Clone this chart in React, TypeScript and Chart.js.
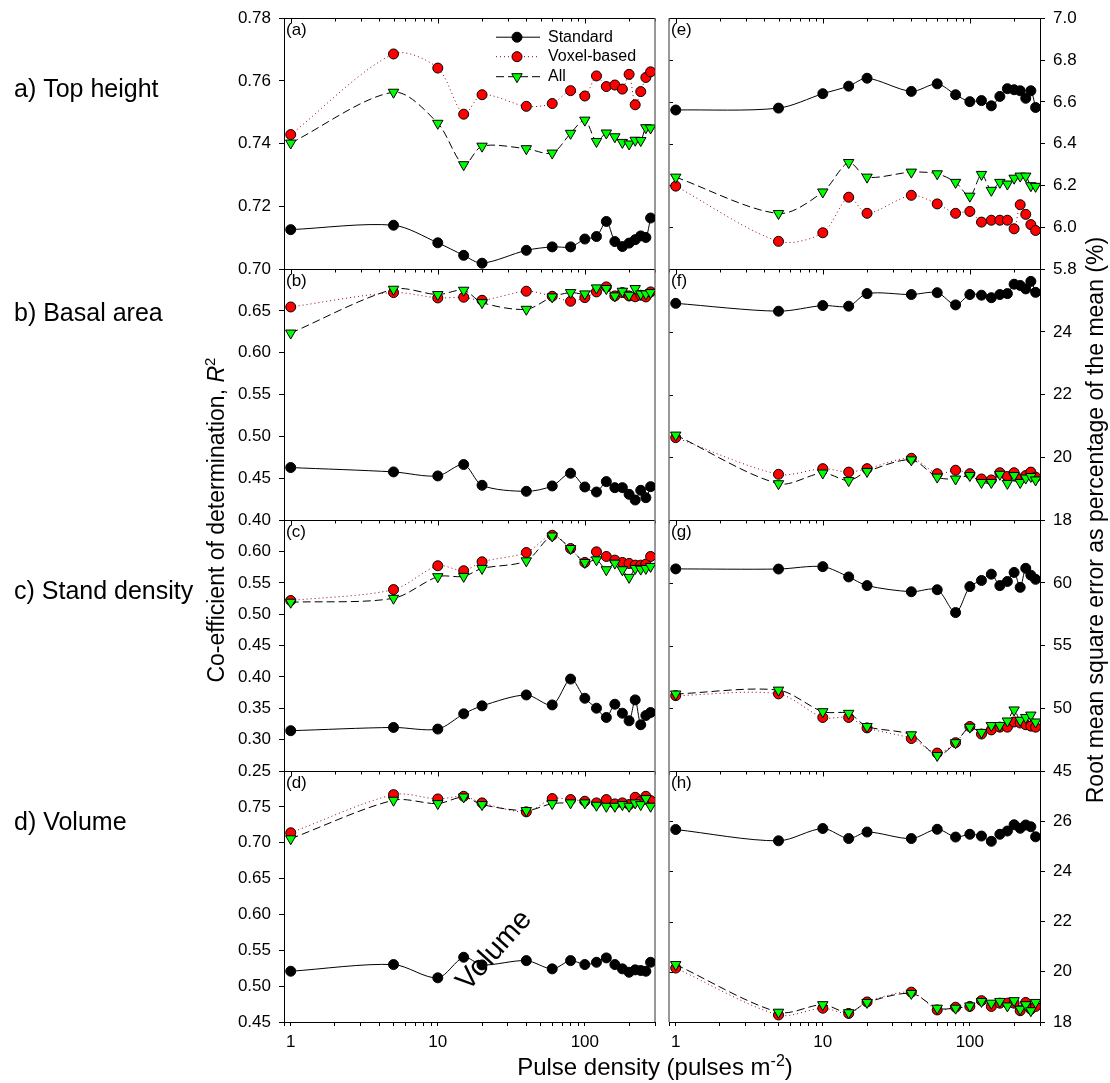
import React, { useEffect, useRef } from "react";
import { Chart, registerables } from "chart.js";

Chart.register(...registerables);

const FONT = "'Liberation Sans', Arial, Helvetica, sans-serif";

// ---------------- data ----------------
const pulseDensity = [1, 5, 10, 15, 20, 40, 60, 80, 100, 120, 140, 160, 180, 200, 220, 240, 260, 280];
const seriesNames = ["Standard", "Voxel-based", "All"];

const xMajorTicks = [1, 10, 100];
const xTickValues = [0.9, 1, 2, 3, 4, 5, 6, 7, 8, 9, 10, 20, 30, 40, 50, 60, 70, 80, 90, 100, 200, 300];

// R2 (left column)
const topHeightStandardR2 = [0.7126, 0.714, 0.7084, 0.7044, 0.7019, 0.706, 0.7071, 0.7071, 0.7096, 0.7104, 0.7152, 0.7088, 0.7072, 0.7083, 0.7094, 0.7106, 0.7101, 0.7163];
const topHeightVoxelR2 = [0.7429, 0.7686, 0.7641, 0.7494, 0.7556, 0.7519, 0.7528, 0.7569, 0.7552, 0.7616, 0.7582, 0.7587, 0.7574, 0.7621, 0.7524, 0.7566, 0.7611, 0.7629];
const topHeightAllR2 = [0.7402, 0.7564, 0.7465, 0.7333, 0.7392, 0.7384, 0.737, 0.7433, 0.7475, 0.7407, 0.7434, 0.7422, 0.7404, 0.7399, 0.7411, 0.741, 0.7451, 0.745];

const basalAreaStandardR2 = [0.4628, 0.4576, 0.4528, 0.4664, 0.4416, 0.4344, 0.4408, 0.456, 0.4396, 0.4336, 0.446, 0.4388, 0.4388, 0.4308, 0.424, 0.4356, 0.4268, 0.44];
const basalAreaVoxelR2 = [0.6548, 0.672, 0.6656, 0.6664, 0.6628, 0.6736, 0.6676, 0.6616, 0.666, 0.6728, 0.6788, 0.668, 0.672, 0.668, 0.667, 0.6688, 0.6668, 0.6728];
const basalAreaAllR2 = [0.6236, 0.676, 0.6696, 0.6748, 0.66, 0.652, 0.6668, 0.672, 0.6704, 0.6776, 0.6768, 0.668, 0.6736, 0.6688, 0.6768, 0.6704, 0.6704, 0.672];

const standDensityStandardR2 = [0.3143, 0.3195, 0.3169, 0.3412, 0.3539, 0.3713, 0.3554, 0.3966, 0.366, 0.3502, 0.3354, 0.3565, 0.3422, 0.3301, 0.3634, 0.3238, 0.3385, 0.3433];
const standDensityVoxelR2 = [0.5218, 0.5392, 0.5772, 0.5693, 0.5835, 0.5983, 0.6258, 0.6047, 0.5825, 0.5994, 0.592, 0.5862, 0.5825, 0.5809, 0.5782, 0.5782, 0.5798, 0.592];
const standDensityAllR2 = [0.5191, 0.5254, 0.5598, 0.5603, 0.573, 0.5851, 0.6247, 0.6047, 0.5825, 0.5867, 0.5709, 0.5814, 0.5709, 0.5587, 0.573, 0.5719, 0.573, 0.5762];

const volumeStandardR2 = [0.5208, 0.5301, 0.5116, 0.5403, 0.5296, 0.5356, 0.5241, 0.5356, 0.5301, 0.5333, 0.5394, 0.5301, 0.5241, 0.5194, 0.5227, 0.5218, 0.5208, 0.5333];
const volumeVoxelR2 = [0.7139, 0.7671, 0.7611, 0.7648, 0.7556, 0.7431, 0.7616, 0.7602, 0.7579, 0.7556, 0.7602, 0.7542, 0.7556, 0.7532, 0.7634, 0.7579, 0.7648, 0.7588];
const volumeAllR2 = [0.7056, 0.7593, 0.7546, 0.7639, 0.7532, 0.7449, 0.7546, 0.7556, 0.7556, 0.7523, 0.7509, 0.7509, 0.7532, 0.7509, 0.7556, 0.7532, 0.7616, 0.7509];

// RMSE % (right column)
const topHeightStandardRmse = [6.561, 6.57, 6.639, 6.675, 6.713, 6.65, 6.686, 6.634, 6.601, 6.606, 6.581, 6.626, 6.663, 6.658, 6.653, 6.617, 6.653, 6.573];
const topHeightVoxelRmse = [6.197, 5.933, 5.974, 6.144, 6.067, 6.153, 6.112, 6.067, 6.076, 6.025, 6.034, 6.034, 6.034, 5.993, 6.108, 6.062, 6.013, 5.985];
const topHeightAllRmse = [6.24, 6.066, 6.169, 6.31, 6.24, 6.264, 6.256, 6.215, 6.149, 6.253, 6.177, 6.215, 6.207, 6.235, 6.245, 6.245, 6.199, 6.196];

const basalAreaStandardRmse = [24.91, 24.66, 24.84, 24.82, 25.22, 25.19, 25.25, 24.86, 25.19, 25.17, 25.09, 25.19, 25.22, 25.52, 25.48, 25.37, 25.61, 25.26];
const basalAreaVoxelRmse = [20.63, 19.46, 19.64, 19.53, 19.64, 19.97, 19.48, 19.59, 19.48, 19.31, 19.28, 19.51, 19.39, 19.51, 19.31, 19.42, 19.53, 19.37];
const basalAreaAllRmse = [20.71, 19.16, 19.5, 19.26, 19.55, 19.92, 19.37, 19.31, 19.42, 19.2, 19.2, 19.46, 19.17, 19.42, 19.2, 19.34, 19.39, 19.28];

const standDensityStandardRmse = [61.11, 61.1, 61.29, 60.47, 59.78, 59.29, 59.45, 57.63, 59.7, 60.19, 60.69, 59.78, 60.11, 60.83, 59.64, 61.16, 60.61, 60.28];
const standDensityVoxelRmse = [51.01, 51.15, 49.27, 49.27, 48.44, 47.59, 46.43, 47.26, 48.55, 47.95, 48.28, 48.5, 48.5, 48.91, 48.83, 48.69, 48.58, 48.5];
const standDensityAllRmse = [51.14, 51.45, 49.73, 49.6, 48.55, 47.89, 46.24, 47.26, 48.5, 48.08, 48.63, 48.63, 48.99, 49.87, 49.05, 49.27, 49.46, 48.91];

const volumeStandardRmse = [25.67, 25.22, 25.71, 25.31, 25.57, 25.31, 25.68, 25.37, 25.48, 25.41, 25.2, 25.48, 25.61, 25.86, 25.72, 25.85, 25.78, 25.38];
const volumeVoxelRmse = [20.15, 18.28, 18.55, 18.34, 18.8, 19.19, 18.48, 18.59, 18.62, 18.85, 18.62, 18.75, 18.75, 18.75, 18.45, 18.78, 18.51, 18.62];
const volumeAllRmse = [20.29, 18.39, 18.69, 18.37, 18.78, 19.14, 18.55, 18.55, 18.64, 18.82, 18.75, 18.82, 18.64, 18.85, 18.51, 18.69, 18.45, 18.78];

const sideLabels = ["a) Top height", "b) Basal area", "c) Stand density", "d) Volume"];

// ---------------- panel layout config ----------------
type Panel = {
  id: string; col: "L" | "R"; letter: string; min: number; max: number; step: number; dec: number;
  hideTop: boolean; weight: number; series: number[][];
};

const panels: Panel[] = [
  { id: "yA", col: "L", letter: "(a)", min: 0.7, max: 0.78, step: 0.02, dec: 2, hideTop: false, weight: 4, series: [topHeightStandardR2, topHeightVoxelR2, topHeightAllR2] },
  { id: "yB", col: "L", letter: "(b)", min: 0.4, max: 0.7, step: 0.05, dec: 2, hideTop: true, weight: 3, series: [basalAreaStandardR2, basalAreaVoxelR2, basalAreaAllR2] },
  { id: "yC", col: "L", letter: "(c)", min: 0.25, max: 0.65, step: 0.05, dec: 2, hideTop: true, weight: 2, series: [standDensityStandardR2, standDensityVoxelR2, standDensityAllR2] },
  { id: "yD", col: "L", letter: "(d)", min: 0.45, max: 0.8, step: 0.05, dec: 2, hideTop: true, weight: 1, series: [volumeStandardR2, volumeVoxelR2, volumeAllR2] },
  { id: "yE", col: "R", letter: "(e)", min: 5.8, max: 7.0, step: 0.2, dec: 1, hideTop: false, weight: 1, series: [topHeightStandardRmse, topHeightVoxelRmse, topHeightAllRmse] },
  { id: "yF", col: "R", letter: "(f)", min: 18, max: 26, step: 2, dec: 0, hideTop: true, weight: 2, series: [basalAreaStandardRmse, basalAreaVoxelRmse, basalAreaAllRmse] },
  { id: "yG", col: "R", letter: "(g)", min: 45, max: 65, step: 5, dec: 0, hideTop: true, weight: 3, series: [standDensityStandardRmse, standDensityVoxelRmse, standDensityAllRmse] },
  { id: "yH", col: "R", letter: "(h)", min: 18, max: 28, step: 2, dec: 0, hideTop: true, weight: 4, series: [volumeStandardRmse, volumeVoxelRmse, volumeAllRmse] },
];

const sideLabelOffsets = [72, 45, 72, 52];

const seriesStyle = [
  { line: "#000000", dash: [] as number[], fill: "#000000", shape: "circle", rot: 0, r: 5 },
  { line: "#990000", dash: [1, 3], fill: "#ff0000", shape: "circle", rot: 0, r: 5 },
  { line: "#000000", dash: [8, 4], fill: "#00ff00", shape: "triangle", rot: 180, r: 6 },
];

// ---------------- helpers ----------------
type Part = { t: string; f: string; dy: number };

function drawRich(ctx: CanvasRenderingContext2D, parts: Part[], cx: number, y: number) {
  let total = 0;
  parts.forEach((p) => { ctx.font = p.f; total += ctx.measureText(p.t).width; });
  let x = cx - total / 2;
  ctx.textAlign = "left";
  ctx.textBaseline = "alphabetic";
  parts.forEach((p) => {
    ctx.font = p.f;
    ctx.fillText(p.t, x, y + p.dy);
    x += ctx.measureText(p.t).width;
  });
}

function drawMarker(ctx: CanvasRenderingContext2D, s: number, x: number, y: number) {
  const st = seriesStyle[s];
  ctx.beginPath();
  if (st.shape === "circle") {
    ctx.arc(x, y, st.r, 0, Math.PI * 2);
  } else {
    const r = st.r;
    ctx.moveTo(x, y + r);
    ctx.lineTo(x - r * Math.sin(Math.PI / 3), y - r / 2);
    ctx.lineTo(x + r * Math.sin(Math.PI / 3), y - r / 2);
    ctx.closePath();
  }
  ctx.fillStyle = st.fill;
  ctx.fill();
  ctx.setLineDash([]);
  ctx.strokeStyle = "#000";
  ctx.lineWidth = 1;
  ctx.stroke();
}

const decorPlugin = {
  id: "panelDecor",
  beforeDatasetsDraw(chart: any) {
    const ctx: CanvasRenderingContext2D = chart.ctx;
    const s = chart.scales;
    ctx.save();
    ctx.setLineDash([]);
    panels.forEach((p) => {
      const ys = s[p.id];
      const xs = s[p.col === "L" ? "xL" : "xR"];
      const y = Math.round(ys.top) + 0.5;
      ctx.strokeStyle = "#000";
      ctx.lineWidth = 1;
      ctx.beginPath();
      ctx.moveTo(xs.left, y);
      ctx.lineTo(xs.right, y);
      ctx.stroke();
      xTickValues.forEach((v) => {
        const px = Math.round(xs.getPixelForValue(v)) + 0.5;
        const len = xMajorTicks.includes(v) ? 5 : 3;
        ctx.beginPath();
        ctx.moveTo(px, y);
        ctx.lineTo(px, y + len);
        ctx.stroke();
      });
      if (p.col === "R") {
        ys.ticks.forEach((t: any) => {
          const py = Math.round(ys.getPixelForValue(t.value)) + 0.5;
          ctx.beginPath();
          ctx.moveTo(xs.left, py);
          ctx.lineTo(xs.left + 4, py);
          ctx.stroke();
        });
      }
    });
    const area = chart.chartArea;
    ctx.strokeStyle = "#777";
    ctx.lineWidth = 1.5;
    ctx.beginPath();
    ctx.moveTo(s.xL.right, area.top);
    ctx.lineTo(s.xL.right, area.bottom);
    ctx.moveTo(s.xR.left, area.top);
    ctx.lineTo(s.xR.left, area.bottom);
    ctx.stroke();
    ctx.restore();
  },
  afterDraw(chart: any) {
    const ctx: CanvasRenderingContext2D = chart.ctx;
    const s = chart.scales;
    const area = chart.chartArea;
    ctx.save();
    ctx.fillStyle = "#000";

    // panel letters
    panels.forEach((p) => {
      const ys = s[p.id];
      const xs = s[p.col === "L" ? "xL" : "xR"];
      ctx.font = `17px ${FONT}`;
      ctx.textAlign = "left";
      ctx.textBaseline = "middle";
      ctx.fillText(p.letter, xs.left + 2, ys.top + 12.5);
    });

    // side labels
    ["yA", "yB", "yC", "yD"].forEach((id, i) => {
      ctx.font = `25px ${FONT}`;
      ctx.textAlign = "left";
      ctx.textBaseline = "middle";
      ctx.fillText(sideLabels[i], 14, s[id].top + sideLabelOffsets[i]);
    });

    // legend in panel (a)
    const xl = s.xL;
    const yTop = s.yA.top;
    [19, 38.5, 58.5].forEach((dy, i) => {
      const y = yTop + dy;
      const st = seriesStyle[i];
      ctx.save();
      ctx.strokeStyle = st.line;
      ctx.lineWidth = 1;
      ctx.setLineDash(st.dash);
      ctx.beginPath();
      ctx.moveTo(xl.right - 159, y);
      ctx.lineTo(xl.right - 115, y);
      ctx.stroke();
      ctx.restore();
      drawMarker(ctx, i, xl.right - 138, y);
      ctx.fillStyle = "#000";
      ctx.font = `16px ${FONT}`;
      ctx.textAlign = "left";
      ctx.textBaseline = "middle";
      ctx.fillText(seriesNames[i], xl.right - 107, y);
    });

    // left axis title
    ctx.save();
    ctx.translate(224, (area.top + area.bottom) / 2);
    ctx.rotate(-Math.PI / 2);
    drawRich(ctx, [
      { t: "Co-efficient of determination, ", f: `23px ${FONT}`, dy: 0 },
      { t: "R", f: `italic 23px ${FONT}`, dy: 0 },
      { t: "2", f: `15px ${FONT}`, dy: -9 },
    ], 0, 0);
    ctx.restore();

    // right axis title
    ctx.save();
    ctx.translate(1103, (area.top + area.bottom) / 2);
    ctx.rotate(-Math.PI / 2);
    drawRich(ctx, [{ t: "Root mean square error as percentage of the mean (%)", f: `23px ${FONT}`, dy: 0 }], 0, 0);
    ctx.restore();

    // x axis title
    drawRich(ctx, [
      { t: "Pulse density (pulses m", f: `24px ${FONT}`, dy: 0 },
      { t: "-2", f: `16px ${FONT}`, dy: -9 },
      { t: ")", f: `24px ${FONT}`, dy: 0 },
    ], xl.right, 1075);

    // stray annotation in panel (d)
    ctx.save();
    ctx.translate(468, 992);
    ctx.rotate((-48 * Math.PI) / 180);
    ctx.font = `29px ${FONT}`;
    ctx.textAlign = "left";
    ctx.textBaseline = "alphabetic";
    ctx.fillText("Volume", 0, 0);
    ctx.restore();

    ctx.restore();
  },
};

// ---------------- chart config ----------------
function buildDatasets() {
  const ds: any[] = [];
  panels.forEach((p) => {
    p.series.forEach((values, si) => {
      const st = seriesStyle[si];
      ds.push({
        label: seriesNames[si],
        data: pulseDensity.map((x, i) => ({ x, y: values[i] })),
        xAxisID: p.col === "L" ? "xL" : "xR",
        yAxisID: p.id,
        borderColor: st.line,
        borderWidth: 1,
        borderDash: st.dash,
        pointStyle: st.shape,
        pointRotation: st.rot,
        pointRadius: st.r,
        pointHoverRadius: st.r,
        pointBackgroundColor: st.fill,
        pointBorderColor: "#000",
        pointBorderWidth: 1,
        tension: 0.3,
        fill: false,
        order: 2 - si,
      });
    });
  });
  return ds;
}

function xAxis(weight: number, stackWeight: number) {
  return {
    type: "logarithmic",
    position: "bottom",
    stack: "x",
    stackWeight,
    weight,
    min: 0.9,
    max: 300,
    afterBuildTicks: (scale: any) => {
      scale.ticks = xTickValues.map((v) => ({ value: v, major: xMajorTicks.includes(v) }));
    },
    afterFit: (scale: any) => { scale.height = 50; },
    ticks: {
      autoSkip: false,
      maxRotation: 0,
      minRotation: 0,
      padding: 6,
      color: "#000",
      font: { family: FONT, size: 17 },
      callback: (v: any) => (xMajorTicks.includes(Number(v)) ? String(v) : ""),
    },
    grid: { display: true, drawOnChartArea: false, drawTicks: true, tickLength: 4, color: "#000" },
    border: { display: true, color: "#000", width: 1 },
  };
}

function buildScales() {
  const scales: any = {
    xL: xAxis(1, 371),
    xGap: {
      type: "linear",
      position: "bottom",
      stack: "x",
      stackWeight: 14,
      weight: 2,
      afterFit: (scale: any) => { scale.height = 50; },
      ticks: { display: false },
      grid: { display: false },
      border: { display: false },
    },
    xR: xAxis(3, 371),
  };
  panels.forEach((p) => {
    scales[p.id] = {
      type: "linear",
      position: p.col === "L" ? "left" : "right",
      stack: p.col,
      stackWeight: 1,
      weight: p.weight,
      min: p.min,
      max: p.max,
      afterFit: (scale: any) => { scale.width = 50; },
      ticks: {
        stepSize: p.step,
        autoSkip: false,
        padding: 8,
        color: "#000",
        font: { family: FONT, size: 17 },
        callback: (v: any, i: number, ticks: any[]) =>
          p.hideTop && i === ticks.length - 1 ? "" : Number(v).toFixed(p.dec),
      },
      grid: { display: true, drawOnChartArea: false, drawTicks: true, tickLength: 5, color: "#000" },
      border: { display: true, color: "#000", width: 1 },
    };
  });
  return scales;
}

export default function App() {
  const ref = useRef<HTMLCanvasElement>(null);
  useEffect(() => {
    const canvas = ref.current;
    if (!canvas) return;
    const chart = new Chart(canvas, {
      type: "line",
      data: { datasets: buildDatasets() },
      options: {
        responsive: false,
        maintainAspectRatio: false,
        devicePixelRatio: 1,
        animation: false,
        layout: { padding: { left: 234, right: 20, top: 13, bottom: 11 } },
        plugins: { legend: { display: false }, tooltip: { enabled: false }, title: { display: false } },
        scales: buildScales(),
      },
      plugins: [decorPlugin],
    } as any);
    return () => chart.destroy();
  }, []);
  return (
    <div style={{ position: "absolute", left: 0, top: 0, width: 1110, height: 1083, background: "#fff" }}>
      <canvas ref={ref} width={1110} height={1083} style={{ display: "block", width: 1110, height: 1083 }} />
    </div>
  );
}
